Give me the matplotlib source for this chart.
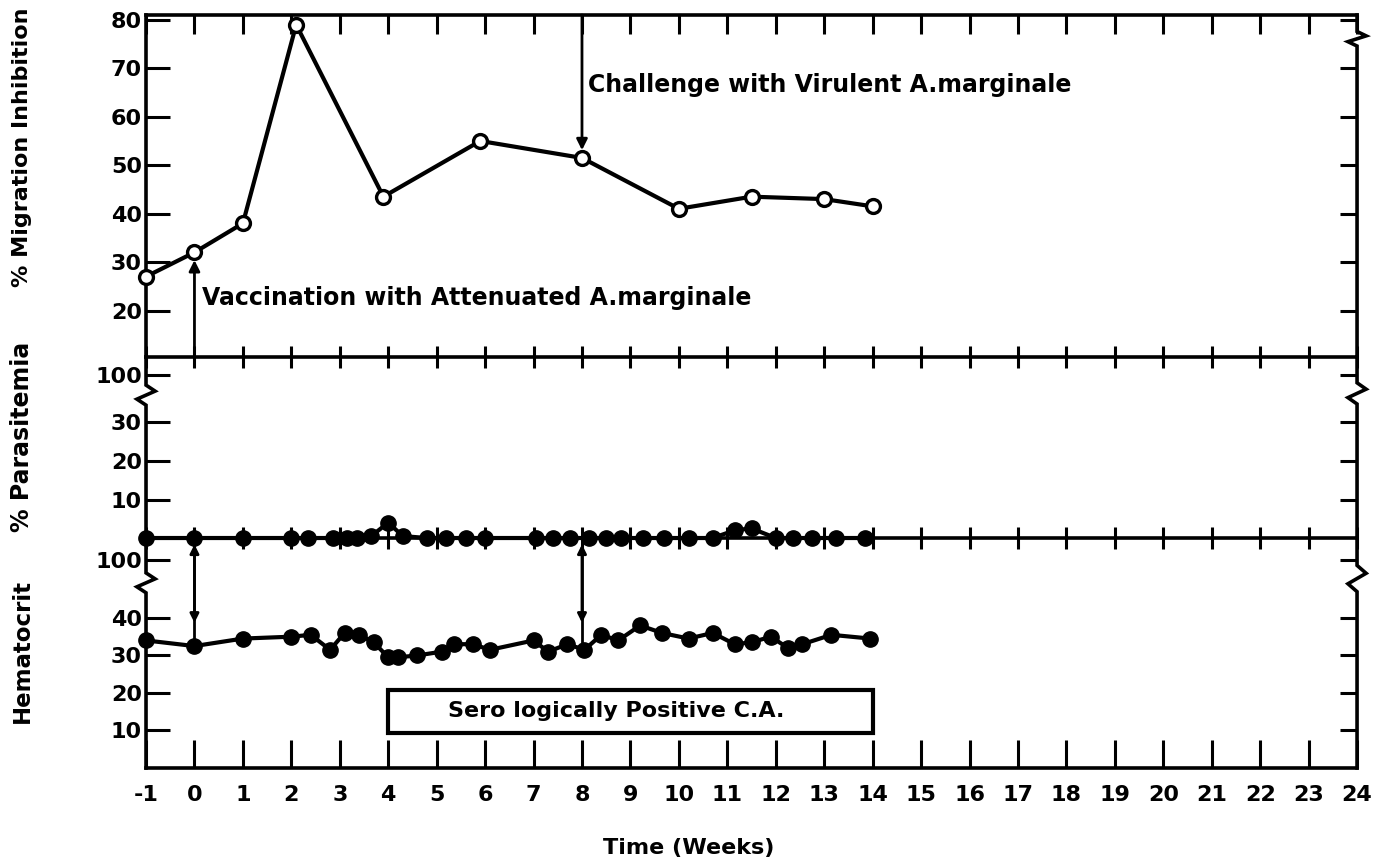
import matplotlib
matplotlib.use("Agg")
import numpy as np
import matplotlib.pyplot as plt
import matplotlib.transforms as mtransforms
from matplotlib import font_manager
from matplotlib.patches import Rectangle

# --- data ---
weeks_mi = [-1, 0, 1, 2.1, 3.9, 5.9, 8, 10, 11.5, 13, 14]
migration = [27, 32, 38, 79, 43.5, 55, 51.5, 41, 43.5, 43, 41.5]

weeks_par = [-1, 0, 1, 2, 2.35, 2.85, 3.15, 3.35, 3.65, 4.0, 4.3, 4.8, 5.2,
             5.6, 6.0, 7.05, 7.4, 7.75, 8.15, 8.5, 8.8, 9.25, 9.7, 10.2,
             10.7, 11.15, 11.5, 12.0, 12.35, 12.75, 13.25, 13.85]
parasitemia = [0, 0, 0, 0, 0, 0, 0, 0, 0.5, 4, 0.5, 0, 0, 0, 0, 0, 0, 0,
               0, 0, 0, 0, 0, 0, 0, 2, 2.5, 0, 0, 0, 0, 0]

weeks_hct = [-1, 0, 1, 2, 2.4, 2.8, 3.1, 3.4, 3.7, 4.0, 4.2, 4.6, 5.1, 5.35,
             5.75, 6.1, 7.0, 7.3, 7.7, 8.05, 8.4, 8.75, 9.2, 9.65, 10.2,
             10.7, 11.15, 11.5, 11.9, 12.25, 12.55, 13.15, 13.95]
hematocrit = [34, 32.5, 34.5, 35, 35.5, 31.5, 36, 35.5, 33.5, 29.5, 29.5, 30,
              31, 33, 33, 31.5, 34, 31, 33, 31.5, 35.5, 34, 38, 36, 34.5, 36,
              33, 33.5, 35, 32, 33, 35.5, 34.5]

week_labels = [str(w) for w in range(-1, 25)]
mi_ticks = [20, 30, 40, 50, 60, 70, 80]
par_ticks = [10, 20, 30, 42.3]          # "100" sits above the axis break
par_labels = ["10", "20", "30", "100"]
hct_ticks = [10, 20, 30, 40, 55.5]
hct_labels = ["10", "20", "30", "40", "100"]

vaccination_week = 0
challenge_week = 8
sero_start, sero_end = 4, 14

# --- font ---
names = {f.name for f in font_manager.fontManager.ttflist}
family = "DejaVu Sans"
for cand in ["Liberation Sans Narrow", "DejaVu Sans Condensed"]:
    if cand in names:
        family = cand
        break
plt.rcParams["font.family"] = [family, "DejaVu Sans"]
plt.rcParams["font.weight"] = "bold"

LW = 2.6
fig = plt.figure(figsize=(13.88, 8.64), dpi=100)
L, W = 0.1052, 0.8725
ax1 = fig.add_axes([L, 0.5868, W, 0.3958])
ax2 = fig.add_axes([L, 0.3773, W, 0.2095])
ax3 = fig.add_axes([L, 0.1111, W, 0.2662])
ax2.set_zorder(3)   # dots on the shared line must sit above the lower panel

ax1.set_ylim(10.4, 81)
ax2.set_ylim(0, 47)
ax3.set_ylim(0, 61.3)

for ax in (ax1, ax2, ax3):
    ax.patch.set_visible(False)
    ax.set_xlim(-1, 24)
    ax.set_xticks(range(-1, 25))
    ax.spines["left"].set_visible(False)
    ax.spines["right"].set_visible(False)
    for s in ("top", "bottom"):
        ax.spines[s].set_linewidth(LW)
    ax.tick_params(axis="both", width=2.2, labelsize=16, color="k")

ax1.spines["bottom"].set_visible(False)
ax3.spines["top"].set_visible(False)

ax1.tick_params(axis="x", top=True, bottom=False, labelbottom=False,
                direction="in", length=14)
ax2.tick_params(axis="x", top=True, bottom=True, labelbottom=False,
                direction="inout", length=16)
ax3.tick_params(axis="x", top=False, bottom=True, direction="in", length=20,
                pad=12)
ax3.set_xticklabels(week_labels)

ax1.set_yticks(mi_ticks)
ax2.set_yticks(par_ticks)
ax2.set_yticklabels(par_labels)
ax3.set_yticks(hct_ticks)
ax3.set_yticklabels(hct_labels)
for ax in (ax1, ax2, ax3):
    ax.tick_params(axis="y", left=True, right=True, direction="in",
                   length=17, pad=3)
    for t in ax.yaxis.get_major_ticks():
        t.tick2line.set_markersize(12)


def side(ax, xa, brk=None, dx=0.0075):
    trans = mtransforms.blended_transform_factory(ax.transAxes, ax.transData)
    lo_lim, hi_lim = ax.get_ylim()
    if brk is None:
        xs, ys = [xa, xa], [lo_lim, hi_lim]
    else:
        hi, lo = brk
        h = hi - lo
        xs = [xa, xa, xa + dx, xa - dx, xa, xa]
        ys = [hi_lim, hi, hi - 0.3 * h, lo + 0.3 * h, lo, lo_lim]
    ax.plot(xs, ys, transform=trans, color="k", lw=LW, clip_on=False,
            solid_joinstyle="miter", zorder=3)


side(ax1, 0)
side(ax1, 1, brk=(77.6, 74.6))
side(ax2, 0, brk=(39.7, 34.5))
side(ax2, 1, brk=(40.3, 34.8))
side(ax3, 0, brk=(52.0, 46.7))
side(ax3, 1, brk=(54.0, 47.0))

# --- series ---
ax1.plot(weeks_mi, migration, "-o", color="k", lw=3, ms=10, mfc="white",
         mec="k", mew=2.4, clip_on=False, zorder=6)
ax2.plot(weeks_par, parasitemia, "-o", color="k", lw=3, ms=11,
         clip_on=False, zorder=6)
ax3.plot(weeks_hct, hematocrit, "-o", color="k", lw=3, ms=11,
         clip_on=False, zorder=6)

# --- arrows and notes ---
head = dict(color="k", lw=2, shrinkA=0, shrinkB=0, mutation_scale=16)
mi_vac = np.interp(vaccination_week, weeks_mi, migration)
mi_chal = np.interp(challenge_week, weeks_mi, migration)
ax1.annotate("", xy=(vaccination_week, mi_vac - 1.6),
             xytext=(vaccination_week, 10.4),
             arrowprops=dict(arrowstyle="-|>", **head), annotation_clip=False)
ax1.annotate("", xy=(challenge_week, mi_chal + 1.6),
             xytext=(challenge_week, 81),
             arrowprops=dict(arrowstyle="-|>", **head), annotation_clip=False)
ax1.text(0.15, 22.6, "Vaccination with Attenuated A.marginale", fontsize=17,
         fontweight="bold", va="center", ha="left")
ax1.text(8.12, 66.6, "Challenge with Virulent A.marginale", fontsize=17,
         fontweight="bold", va="center", ha="left")

for wk in (vaccination_week, challenge_week):
    h = np.interp(wk, weeks_hct, hematocrit)
    ax3.vlines(wk, h, 61.3, color="k", lw=2, zorder=4)
    ax3.annotate("", xy=(wk, 59.6), xytext=(wk, 38.7),
                 arrowprops=dict(arrowstyle="<|-|>", color="k", lw=2,
                                 shrinkA=0, shrinkB=0, mutation_scale=13),
                 annotation_clip=False)

ax3.add_patch(Rectangle((sero_start, 9.3), sero_end - sero_start, 11.5,
                        facecolor="white", edgecolor="k", lw=3, zorder=4))
ax3.text(8.7, 15.1, "Sero logically Positive C.A.", fontsize=16,
         fontweight="bold", ha="center", va="center", zorder=5)

fig.text(0.016, 0.829, "% Migration Inhibition", rotation=90, fontsize=16,
         fontweight="bold", ha="center", va="center")
fig.text(0.016, 0.494, "% Parasitemia", rotation=90, fontsize=17,
         fontweight="bold", ha="center", va="center")
fig.text(0.016, 0.247, "Hematocrit", rotation=90, fontsize=16.5,
         fontweight="bold", ha="center", va="center")
fig.text(0.496, 0.018, "Time (Weeks)", fontsize=16, fontweight="bold",
         ha="center", va="center")

fig.savefig("out.png", dpi=100)
